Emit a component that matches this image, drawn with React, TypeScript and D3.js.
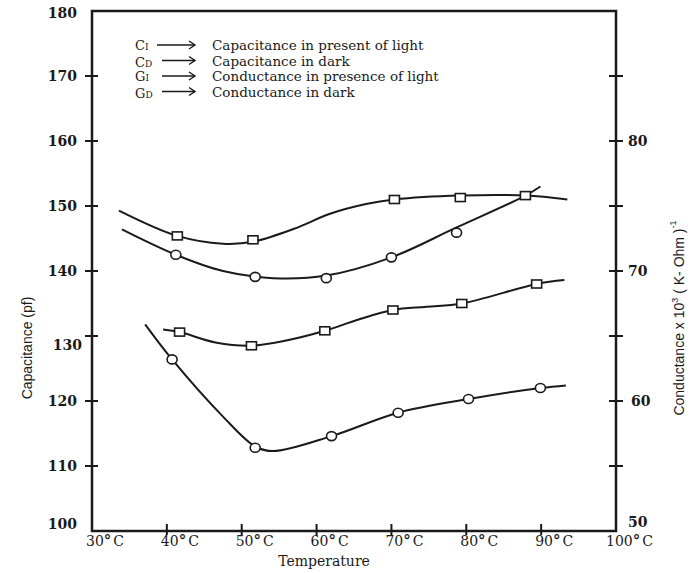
import React from 'react';
import * as d3 from 'd3';

// ---- axes ----
const tempDomain = [30, 100];
const capDomain = [100, 180];
const condDomain = [50, 90];
const tempTicks = [30, 40, 50, 60, 70, 80, 90, 100];
const tempInnerTicks = [40, 50, 60, 70, 80, 90];
const capInnerTicks = [110, 120, 130, 140, 150, 160, 170];
const capTickLabels = [100, 110, 120, 130, 140, 150, 160, 170, 180];
const condInnerTicks = [55, 60, 65, 70, 75, 80, 85];
const condTickLabels = [50, 60, 70, 80];

// ---- series: capacitance in light (squares, left axis) ----
const capLightT = [41.4, 51.5, 70.4, 79.2, 87.9];
const capLightV = [145.4, 144.8, 151.0, 151.3, 151.6];
const capLightFitT = [33.6, 41.4, 47.5, 51.5, 57.0, 61.8, 66.6, 70.4, 79.2, 87.9, 93.5];
const capLightFitV = [149.3, 145.4, 144.2, 144.5, 146.5, 148.8, 150.3, 151.0, 151.6, 151.6, 151.0];

// ---- capacitance in dark (circles, left axis) ----
const capDarkT = [41.2, 51.8, 61.3, 70.0, 78.7];
const capDarkV = [142.5, 139.1, 138.9, 142.1, 145.9];
const capDarkFitT = [34.0, 41.2, 47.5, 54.2, 61.3, 70.0, 78.7, 87.9, 89.9];
const capDarkFitV = [146.4, 142.5, 140.0, 138.9, 139.3, 142.1, 146.7, 151.6, 153.0];

// ---- conductance in light (squares, right axis) ----
const condLightT = [41.7, 51.3, 61.1, 70.2, 79.4, 89.4];
const condLightV = [65.3, 64.25, 65.4, 67.0, 67.5, 69.0];
const condLightFitT = [39.5, 41.7, 46.5, 51.3, 56.1, 61.1, 65.6, 70.2, 74.7, 79.4, 89.4, 93.1];
const condLightFitV = [65.5, 65.3, 64.5, 64.25, 64.67, 65.4, 66.27, 67.0, 67.25, 67.5, 69.0, 69.3];

// ---- conductance in dark (circles, right axis) ----
const condDarkT = [40.7, 51.8, 62.0, 70.9, 80.3, 89.9];
const condDarkV = [63.2, 56.4, 57.3, 59.1, 60.15, 61.0];
const condDarkFitT = [37.1, 40.7, 47.5, 51.8, 54.2, 62.0, 70.9, 80.3, 89.9, 93.3];
const condDarkFitV = [65.9, 63.2, 58.8, 56.5, 56.15, 57.3, 59.1, 60.15, 61.0, 61.2];

// ---- legend ----
const legendSymbols = ['C', 'C', 'G', 'G'];
const legendSubs = ['I', 'D', 'I', 'D'];
const legendTexts = [
  'Capacitance in present of light',
  'Capacitance in dark',
  'Conductance in presence of light',
  'Conductance in dark',
];

const SERIF = "'DejaVu Serif', serif";
const SANS = "'Liberation Sans Narrow', 'Liberation Sans', Arial, sans-serif";
const INK = '#1a1a1a';

export default function App() {
  const W = 696, H = 573;
  const L = 92, R = 616, T = 11, B = 531;
  const x = d3.scaleLinear().domain(tempDomain).range([L, R]);
  const yC = d3.scaleLinear().domain(capDomain).range([B, T]);
  const yG = d3.scaleLinear().domain(condDomain).range([B, T]);

  const series = [
    { ft: capLightFitT, fv: capLightFitV, mt: capLightT, mv: capLightV, y: yC, m: 'sq' },
    { ft: capDarkFitT, fv: capDarkFitV, mt: capDarkT, mv: capDarkV, y: yC, m: 'ci' },
    { ft: condLightFitT, fv: condLightFitV, mt: condLightT, mv: condLightV, y: yG, m: 'sq' },
    { ft: condDarkFitT, fv: condDarkFitV, mt: condDarkT, mv: condDarkV, y: yG, m: 'ci' },
  ];

  return (
    <svg width={W} height={H} style={{ position: 'absolute', left: 0, top: 0, background: '#fff' }}>
      <rect x={0} y={0} width={W} height={H} fill="#fff" />
      {/* frame */}
      <rect x={L} y={T} width={R - L} height={B - T} fill="none" stroke={INK} strokeWidth={2.5} />
      {/* left ticks */}
      {capInnerTicks.map((v) => (
        <line key={'lt' + v} x1={L - 7} x2={L + 6} y1={yC(v)} y2={yC(v)} stroke={INK} strokeWidth={2} />
      ))}
      {capTickLabels.map((v) => {
        let yy = yC(v) + 5;
        if (v === 180) yy = yC(v) + 7;
        if (v === 100) yy = yC(v) - 2;
        if (v === 130) yy = yC(v) + 14;
        return (
          <text key={'ll' + v} x={v === 130 ? 82 : 77} y={yy} textAnchor="end" fontFamily={SERIF}
            fontWeight="bold" fontSize={14} fill={INK}>{v}</text>
        );
      })}
      {/* right ticks */}
      {condInnerTicks.map((v) => (
        <line key={'rt' + v} x1={R - 7} x2={R + 7} y1={yG(v)} y2={yG(v)} stroke={INK} strokeWidth={2} />
      ))}
      {condTickLabels.map((v) => (
        <text key={'rl' + v} x={v === 60 ? 631 : 628} y={v === 50 ? yG(v) - 4 : yG(v) + 5} fontFamily={SERIF}
          fontWeight="bold" fontSize={14} fill={INK}>{v}</text>
      ))}
      {/* bottom ticks */}
      {tempInnerTicks.map((t) => (
        <line key={'bt' + t} x1={x(t)} x2={x(t)} y1={B - 7} y2={B + 4} stroke={INK} strokeWidth={2} />
      ))}
      {tempTicks.map((t) => (
        <text key={'bl' + t} x={t === 100 ? x(t) - 10 : x(t) - 6} y={546} fontFamily={SERIF}
          fontSize={14} fill={INK}>
          <tspan>{t}</tspan>
          <tspan fontWeight="bold" fontSize={15}>°</tspan>
          <tspan dx={2}>C</tspan>
        </text>
      ))}
      <text x={324} y={566} textAnchor="middle" fontFamily={SERIF} fontSize={14} fill={INK}>Temperature</text>

      {/* axis titles */}
      <text transform="translate(32,348) rotate(-90)" textAnchor="middle" fontFamily={SANS} fontSize={14}
        fill={INK}>Capacitance (pf)</text>
      <text transform="translate(684,318) rotate(-90)" textAnchor="middle" fontFamily={SANS} fontSize={14}
        fill={INK}>
        <tspan>Conductance x 10</tspan>
        <tspan fontSize={9} dy={-6}>3</tspan>
        <tspan dy={6}>{'  ( K- Ohm )'}</tspan>
        <tspan fontSize={9} dy={-8}>-1</tspan>
      </text>

      {/* legend */}
      {legendTexts.map((txt, i) => {
        const by = 50 + i * 15.5;
        const ay = by - 5;
        const ax1 = i === 0 ? 157 : 162;
        const ax2 = 195;
        return (
          <g key={'lg' + i}>
            <text x={135} y={by + (i % 2 === 1 ? 1 : 0)} fontFamily={SERIF} fontSize={13} fill={INK}>
              <tspan>{legendSymbols[i]}</tspan>
              <tspan fontSize={9}>{legendSubs[i]}</tspan>
            </text>
            <line x1={ax1} x2={ax2} y1={ay} y2={ay} stroke={INK} strokeWidth={1.4} />
            <path d={`M${ax2 - 6},${ay - 4} L${ax2},${ay} L${ax2 - 6},${ay + 4}`} fill="none" stroke={INK}
              strokeWidth={1.4} />
            <text x={212} y={by} fontFamily={SERIF} fontSize={13.5} fill={INK}>{txt}</text>
          </g>
        );
      })}

      {/* curves */}
      {series.map((s, i) => {
        const pts: [number, number][] = s.ft.map((t, k) => [t, s.fv[k]]);
        const gen = d3.line<[number, number]>().x((d) => x(d[0])).y((d) => s.y(d[1]))
          .curve(d3.curveCatmullRom.alpha(0.5));
        return <path key={'c' + i} d={gen(pts) || ''} fill="none" stroke={INK} strokeWidth={2} />;
      })}
      {/* markers */}
      {series.map((s, i) =>
        s.mt.map((t, k) =>
          s.m === 'sq' ? (
            <rect key={'m' + i + '-' + k} x={x(t) - 5} y={s.y(s.mv[k]) - 4} width={10} height={8} fill="#fff"
              stroke={INK} strokeWidth={1.6} />
          ) : (
            <ellipse key={'m' + i + '-' + k} cx={x(t)} cy={s.y(s.mv[k])} rx={5} ry={4.5} fill="#fff" stroke={INK}
              strokeWidth={1.6} />
          )
        )
      )}
    </svg>
  );
}
